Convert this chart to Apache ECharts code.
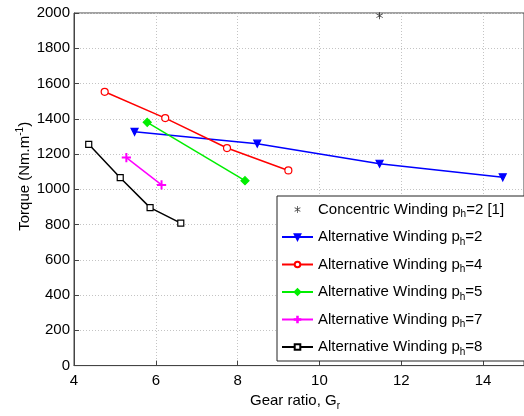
<!DOCTYPE html>
<html>
<head>
<meta charset="utf-8">
<script src="https://cdn.jsdelivr.net/npm/echarts@6/dist/echarts.min.js"></script>
<style>
  html, body { margin: 0; padding: 0; background: #fff; }
  #chart { width: 524px; height: 416px; }
</style>
</head>
<body>
<div id="chart"></div>
<script>
// Torque vs gear ratio for several winding pole numbers
const concentricPh2 = [[11.47, 1985]];
const altPh2 = [[5.48, 1326], [8.48, 1259], [11.47, 1145], [14.48, 1068]];
const altPh4 = [[4.75, 1553], [6.23, 1404], [7.74, 1234], [9.24, 1107]];
const altPh5 = [[5.79, 1380], [8.18, 1049]];
const altPh7 = [[5.28, 1180], [6.14, 1025]];
const altPh8 = [[4.36, 1255], [5.13, 1066], [5.86, 896], [6.61, 808]];

const xTicks = [4, 6, 8, 10, 12, 14];
const yTicks = [0, 200, 400, 600, 800, 1000, 1200, 1400, 1600, 1800, 2000];

const seriesNames = [
  'Concentric Winding p_h=2 [1]',
  'Alternative Winding p_h=2',
  'Alternative Winding p_h=4',
  'Alternative Winding p_h=5',
  'Alternative Winding p_h=7',
  'Alternative Winding p_h=8'
];

const asterisk = 'path://M9,0H11V7.6L17.6,3.8L18.6,5.5L12,9.3V10.7L18.6,14.5L17.6,16.2L11,12.4V20H9V12.4L2.4,16.2L1.4,14.5L8,10.7V9.3L1.4,5.5L2.4,3.8L9,7.6Z';
const plus = 'path://M9,0H11V9H20V11H11V20H9V11H0V9H9Z';

function lineSeries(name, data, color, symbol, size, filled, rotate) {
  return {
    name: name,
    type: 'line',
    data: data,
    symbol: symbol,
    symbolSize: size,
    symbolRotate: rotate || 0,
    showAllSymbol: true,
    lineStyle: { color: color, width: 1.5 },
    itemStyle: {
      color: filled ? color : '#fff',
      borderColor: color,
      borderWidth: 1.2
    },
    emphasis: { disabled: true },
    animation: false,
    z: 3
  };
}

const chart = echarts.init(document.getElementById('chart'));
const font = 'Liberation Sans, Arial, sans-serif';

chart.setOption({
  backgroundColor: '#fff',
  animation: false,
  grid: {
    left: 74, top: 13, width: 454, height: 357,
    show: true, borderColor: '#444', borderWidth: 1, backgroundColor: 'transparent'
  },
  xAxis: {
    type: 'value', min: 4, max: 15, interval: 2,
    name: '{a|Gear ratio, G}{s|r}',
    nameLocation: 'middle', nameGap: 24,
    nameTextStyle: {
      padding: [0, 8, 0, 0],
      rich: {
        a: { fontFamily: font, fontSize: 15, color: '#000' },
        s: { fontFamily: font, fontSize: 10, color: '#000', padding: [10, 0, 0, 0] }
      }
    },
    axisLine: { show: true, lineStyle: { color: '#444' } },
    axisTick: { show: true, inside: true, length: 5, lineStyle: { color: '#444' } },
    axisLabel: {
      fontFamily: font, fontSize: 15, color: '#000', margin: 8,
      showMaxLabel: false,
      formatter: v => xTicks.includes(v) ? String(v) : ''
    },
    splitLine: { show: true, lineStyle: { color: '#c4c4c4', type: [1, 2], width: 1 } }
  },
  yAxis: {
    type: 'value', min: 0, max: 2000, interval: 200,
    name: '{a|Torque (Nm.m}{s|-1}{a|)}',
    nameLocation: 'middle', nameGap: 40, nameRotate: 90,
    nameMoveOverlap: false,
    nameTextStyle: {
      padding: [0, 0, 0, 26],
      rich: {
        a: { fontFamily: font, fontSize: 15, color: '#000' },
        s: { fontFamily: font, fontSize: 10, color: '#000', padding: [0, 0, 9, 0] }
      }
    },
    axisLine: { show: true, lineStyle: { color: '#444' } },
    axisTick: { show: true, inside: true, length: 5, lineStyle: { color: '#444' } },
    axisLabel: {
      fontFamily: font, fontSize: 15, color: '#000', margin: 4,
      formatter: v => yTicks.includes(v) ? String(v) : ''
    },
    splitLine: { show: true, lineStyle: { color: '#c4c4c4', type: [1, 2], width: 1 } }
  },
  legend: {
    orient: 'vertical',
    left: 277, top: 196,
    padding: [6, 30, 4, 4],
    itemGap: 10,
    itemWidth: 31, itemHeight: 7,
    backgroundColor: '#fff',
    borderColor: '#222', borderWidth: 1,
    selectedMode: false,
    data: seriesNames,
    formatter: function (n) {
      const m = n.match(/^(.*) p_h(.*)$/);
      return '{t|' + m[1] + ' p}{s|h}{t|' + m[2] + '}';
    },
    textStyle: {
      rich: {
        t: { fontFamily: font, fontSize: 15, color: '#000', lineHeight: 19 },
        s: { fontFamily: font, fontSize: 10, color: '#000', padding: [10, 0, 0, 0] }
      }
    }
  },
  series: [
    {
      name: seriesNames[0],
      type: 'scatter',
      data: concentricPh2,
      symbol: asterisk,
      symbolSize: 7,
      itemStyle: { color: '#000' },
      emphasis: { disabled: true },
      z: 3
    },
    lineSeries(seriesNames[1], altPh2, '#0000ff', 'triangle', 7, true, 180),
    lineSeries(seriesNames[2], altPh4, '#ff0000', 'circle', 7, false),
    lineSeries(seriesNames[3], altPh5, '#00ee00', 'diamond', 8, true),
    lineSeries(seriesNames[4], altPh7, '#ff00ff', plus, 8, true),
    lineSeries(seriesNames[5], altPh8, '#000000', 'rect', 6, false)
  ]
});
</script>
</body>
</html>
